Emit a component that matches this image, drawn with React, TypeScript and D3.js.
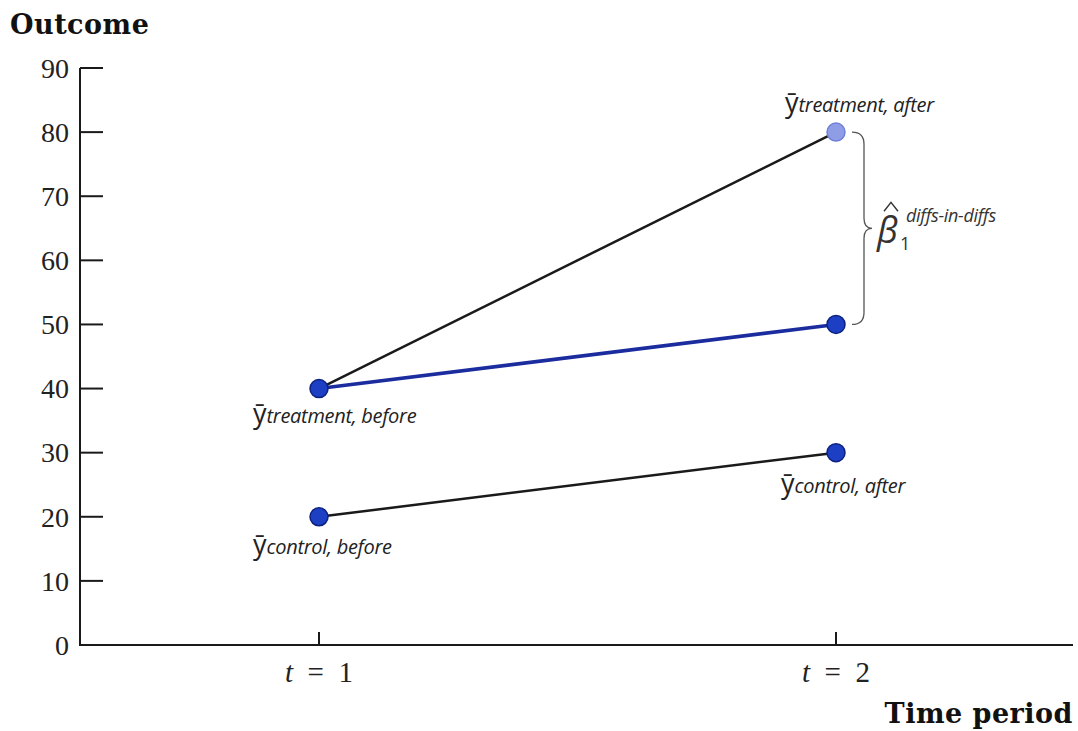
import { useEffect } from 'react'
import * as d3 from 'd3'

// values
const periods = [1, 2]
const treatment = [40, 80]
const counterfactual = [40, 50]
const control = [20, 30]
const yTicks = [0, 10, 20, 30, 40, 50, 60, 70, 80, 90]

type Pt = { t: number; v: number }

const zip = (vals: number[]): Pt[] => vals.map((v, i) => ({ t: periods[i], v }))

const App = () => {
  useEffect(() => {
    document.body.style.margin = '0'
  }, [])

  const width = 1078
  const height = 731
  const axisX = 80
  const axisY = 645

  const x = d3.scaleLinear().domain([1, 2]).range([319, 836])
  const y = d3.scaleLinear().domain([0, 90]).range([axisY, 68])

  const line = d3
    .line<Pt>()
    .x((d) => x(d.t))
    .y((d) => y(d.v))

  const serif = '"Liberation Serif", "DejaVu Serif", serif'
  const titleFont = '"DejaVu Serif", "Liberation Serif", serif'
  const sans = '"Open Sans", "Noto Sans", sans-serif'

  // curly brace between treatment-after and counterfactual
  const bTop = y(treatment[1])
  const bBot = y(counterfactual[1])
  const bMid = (bTop + bBot) / 2
  const bx = x(2) + 28
  const brace = `M ${bx - 12},${bTop} Q ${bx},${bTop} ${bx},${bTop + 12} L ${bx},${bMid - 10} Q ${bx},${bMid} ${bx + 8},${bMid} Q ${bx},${bMid} ${bx},${bMid + 10} L ${bx},${bBot - 12} Q ${bx},${bBot} ${bx - 12},${bBot}`

  const label = (px: number, py: number, sub: string) => (
    <text x={px} y={py} fontFamily={sans} fill="#222">
      <tspan fontSize={27} fontStyle="normal">ȳ</tspan>
      <tspan fontSize={20} fontStyle="italic" letterSpacing={-0.3}>{sub}</tspan>
    </text>
  )

  const dot = (t: number, v: number, light = false) => (
    <circle
      cx={x(t)}
      cy={y(v)}
      r={9}
      fill={light ? '#8f9de6' : '#1c3fc4'}
      stroke={light ? '#7080d8' : '#0d2280'}
      strokeWidth={1.5}
    />
  )

  return (
    <svg width={width} height={height} style={{ display: 'block', background: '#fff' }}>
      {/* axes */}
      <line x1={axisX} y1={y(90)} x2={axisX} y2={axisY} stroke="#1a1a1a" strokeWidth={2} />
      <line x1={axisX - 1} y1={axisY} x2={1073} y2={axisY} stroke="#1a1a1a" strokeWidth={2} />
      {yTicks.map((t) => (
        <g key={t}>
          {t > 0 && (
            <line x1={axisX} x2={axisX + 23} y1={y(t)} y2={y(t)} stroke="#1a1a1a" strokeWidth={2} />
          )}
          <text
            x={axisX - 11}
            y={y(t)}
            dy="0.35em"
            textAnchor="end"
            fontFamily={serif}
            fontSize={28}
            fill="#222"
          >
            {t}
          </text>
        </g>
      ))}
      {periods.map((p) => (
        <g key={p}>
          <line x1={x(p)} x2={x(p)} y1={axisY - 13} y2={axisY} stroke="#1a1a1a" strokeWidth={2} />
          <text x={x(p)} y={682} textAnchor="middle" fontFamily={serif} fontSize={29} fill="#222">
            <tspan fontStyle="italic">t</tspan>
            {'\u2002=\u2002'}
            {p}
          </text>
        </g>
      ))}
      <text x={10} y={34} fontFamily={titleFont} fontSize={27} fontWeight="bold" fill="#111" letterSpacing={0.5}>
        Outcome
      </text>
      <text
        x={1073}
        y={723}
        textAnchor="end"
        fontFamily={titleFont}
        fontSize={27}
        fontWeight="bold"
        fill="#111"
        letterSpacing={0.5}
      >
        Time period
      </text>

      {/* lines */}
      <path d={line(zip(treatment)) ?? ''} fill="none" stroke="#1a1a1a" strokeWidth={2.5} />
      <path d={line(zip(counterfactual)) ?? ''} fill="none" stroke="#1b2c9e" strokeWidth={3.5} />
      <path d={line(zip(control)) ?? ''} fill="none" stroke="#1a1a1a" strokeWidth={2.5} />

      {dot(1, treatment[0])}
      {dot(2, treatment[1], true)}
      {dot(2, counterfactual[1])}
      {dot(1, control[0])}
      {dot(2, control[1])}

      {/* point labels */}
      {label(x(1) - 66, y(treatment[0]) + 34, 'treatment, before')}
      {label(x(1) - 66, y(control[0]) + 37, 'control, before')}
      {label(x(2) - 55, y(control[1]) + 40, 'control, after')}
      {label(x(2) - 51, y(treatment[1]) - 20, 'treatment, after')}

      {/* brace and estimator */}
      <path d={brace} fill="none" stroke="#555" strokeWidth={1.3} />
      <g fontFamily={sans} fill="#333">
        <text x={bx + 13} y={bMid + 15} fontSize={36} fontStyle="italic">β</text>
        <path
          d={`M ${bx + 20},${bMid - 17} L ${bx + 27},${bMid - 26} L ${bx + 34},${bMid - 17}`}
          fill="none"
          stroke="#333"
          strokeWidth={1.4}
        />
        <text x={bx + 36} y={bMid + 22} fontSize={18}>1</text>
        <text x={bx + 42} y={bMid - 6} fontSize={18} fontStyle="italic" letterSpacing={-0.3}>
          diffs-in-diffs
        </text>
      </g>
    </svg>
  )
}

export default App
